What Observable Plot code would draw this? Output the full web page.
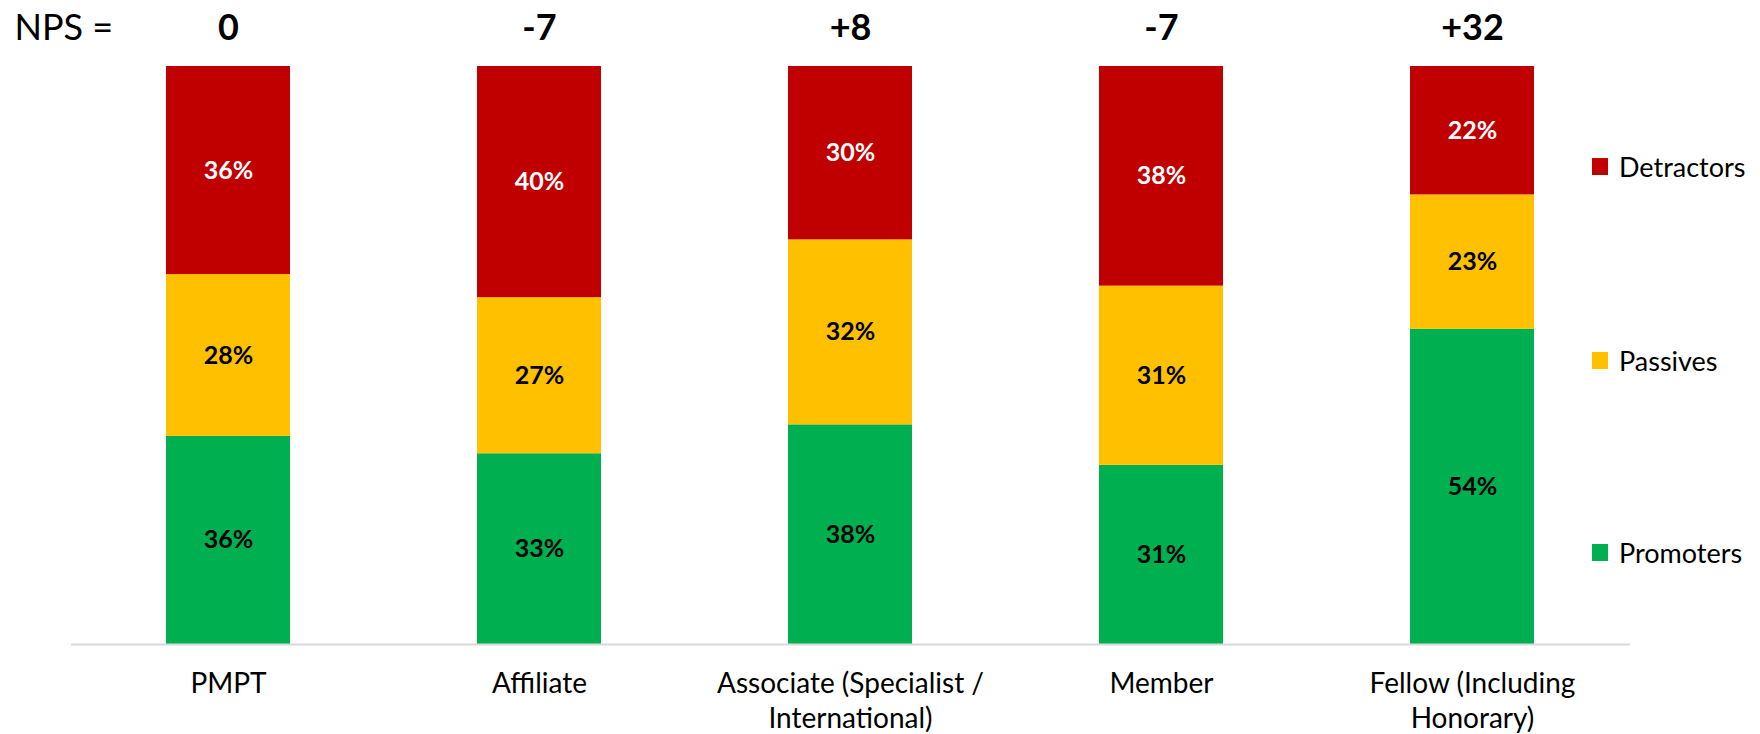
<!DOCTYPE html>
<html>
<head>
<meta charset="utf-8">
<script src="https://cdn.jsdelivr.net/npm/d3@7"></script>
<script src="https://cdn.jsdelivr.net/npm/@observablehq/plot@0.6"></script>
<style>
  html, body { margin: 0; padding: 0; background: #fff; }
  #wrap { position: relative; width: 1760px; height: 734px; font-family: Lato, "Open Sans", sans-serif; }
  #legend { position: absolute; left: 1592px; top: 0; }
  .item { position: absolute; left: 0; display: flex; align-items: center; white-space: nowrap; font-size: 27px; color: #000; }
  .sw { width: 16px; height: 17px; margin-right: 11px; flex: none; }
</style>
</head>
<body>
<div id="wrap"><div id="legend"></div></div>
<script>
const categories = ["PMPT", "Affiliate", "Associate (Specialist / International)", "Member", "Fellow (Including Honorary)"];
const tickLabels = ["PMPT", "Affiliate", "Associate (Specialist /\nInternational)", "Member", "Fellow (Including\nHonorary)"];
const npsLabels = ["0", "-7", "+8", "-7", "+32"];
const seriesNames = ["Promoters", "Passives", "Detractors"];
const seriesColors = ["#00B050", "#FFC000", "#C00000"];
const promoters = [36, 33, 38, 31, 54];
const passives = [28, 27, 32, 31, 23];
const detractors = [36, 40, 30, 38, 22];
const legendOrder = ["Detractors", "Passives", "Promoters"];

const seriesValues = {Promoters: promoters, Passives: passives, Detractors: detractors};
const rows = [];
seriesNames.forEach(s => categories.forEach((c, i) => rows.push({category: c, series: s, value: seriesValues[s][i]})));
const npsRows = categories.map((c, i) => ({category: c, nps: npsLabels[i]}));
const tickMap = new Map(categories.map((c, i) => [c, tickLabels[i]]));

const stackOpts = {offset: "normalize", order: seriesNames};

const chart = Plot.plot({
  width: 1760,
  height: 734,
  marginLeft: 71,
  marginRight: 130,
  marginTop: 66,
  marginBottom: 90,
  style: {fontFamily: "Lato, 'Open Sans', sans-serif", background: "white", color: "black"},
  x: {domain: categories, paddingInner: 0.6, paddingOuter: 0.3, axis: null},
  y: {domain: [0, 1], axis: null},
  color: {domain: seriesNames, range: seriesColors},
  marks: [
    Plot.barY(rows, Plot.stackY(stackOpts, {x: "category", y: "value", fill: "series", z: "series"})),
    Plot.ruleY([0], {stroke: "#d9d9d9", strokeWidth: 2}),
    Plot.text(rows, Plot.stackY(stackOpts, {
      x: "category", y: "value", z: "series",
      text: d => d.series === "Detractors" ? d.value + "%" : "",
      fill: "white", fontWeight: "bold", fontSize: 25
    })),
    Plot.text(rows, Plot.stackY(stackOpts, {
      x: "category", y: "value", z: "series",
      text: d => d.series !== "Detractors" ? d.value + "%" : "",
      fill: "black", fontWeight: "bold", fontSize: 25
    })),
    Plot.axisX({
      domain: categories, tickSize: 0, tickPadding: 24, fontSize: 28, lineHeight: 1.25,
      tickFormat: c => tickMap.get(c), label: null, fill: "black"
    }),
    Plot.text(npsRows, {x: "category", text: "nps", frameAnchor: "top", lineAnchor: "middle", dy: -38, fontWeight: "bold", fontSize: 36, fill: "black"}),
    Plot.text(["NPS ="], {frameAnchor: "top-left", lineAnchor: "middle", textAnchor: "start", dx: -57, dy: -38, fontSize: 36, fill: "black"})
  ]
});
document.getElementById("wrap").prepend(chart);

const legendY = {Detractors: 166.5, Passives: 360, Promoters: 552.5};
const legend = document.getElementById("legend");
legendOrder.forEach(s => {
  const item = document.createElement("div");
  item.className = "item";
  item.style.top = (legendY[s] - 20) + "px";
  item.style.height = "40px";
  const sw = document.createElement("span");
  sw.className = "sw";
  sw.style.background = seriesColors[seriesNames.indexOf(s)];
  const t = document.createElement("span");
  t.textContent = s;
  item.append(sw, t);
  legend.append(item);
});
</script>
</body>
</html>
